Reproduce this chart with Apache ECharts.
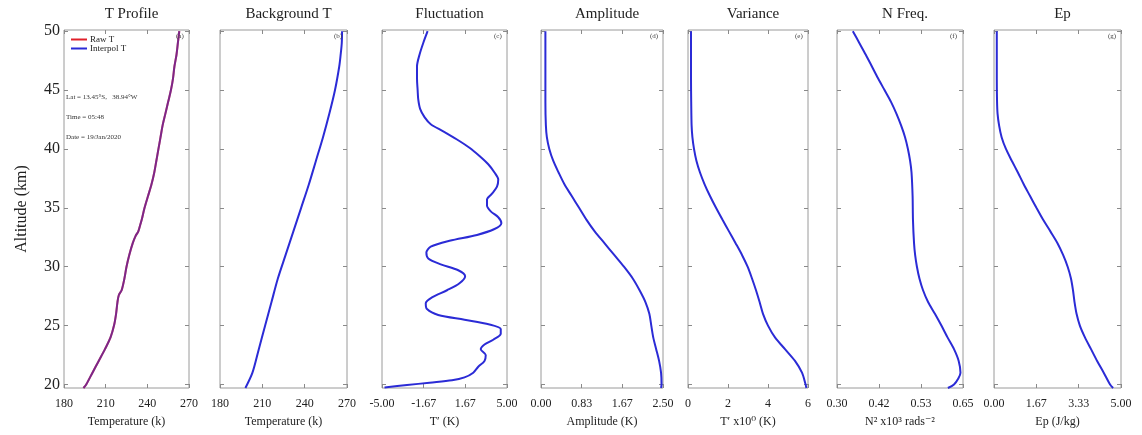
<!DOCTYPE html>
<html>
<head>
<meta charset="utf-8">
<script src="https://cdn.jsdelivr.net/npm/echarts@6/dist/echarts.min.js"></script>
<style>
  html, body { margin: 0; padding: 0; background: #fff; }
  #chart { width: 1142px; height: 435px; }
</style>
</head>
<body>
<div id="chart"></div>
<script>
// altitude ticks shared by all panels
const altTicks = [20, 25, 30, 35, 40, 45, 50]

// (a) T profile, raw + interpolated
const rawAlt = [19.7, 20, 21, 22, 23, 24, 25, 26, 27, 27.6, 28, 29, 30, 31, 32, 32.6, 33, 33.6, 34, 35, 36, 37, 38, 39, 40, 41, 42, 43, 44, 45, 46, 47, 48, 49, 50]
const rawT = [194, 196, 200.5, 205, 209.5, 213.5, 216, 217.5, 218.5, 219.5, 221.5, 223.5, 225, 227, 229.5, 231.5, 233.5, 235, 236, 238, 240.5, 243, 245, 246.5, 248, 249.5, 251, 253, 255, 257, 258.5, 259.5, 261, 262, 263]
const interpT = [194, 196, 200.5, 205, 209.5, 213.5, 216, 217.5, 218.5, 219.5, 221.5, 223.5, 225, 227, 229.5, 231.5, 233.5, 235, 236, 238, 240.5, 243, 245, 246.5, 248, 249.5, 251, 253, 255, 257, 258.5, 259.5, 261, 262, 263]
const tempTicks = [180, 210, 240, 270]

// (b) background T
const bgAlt = [19.7, 21, 23, 25, 27, 29, 31, 33, 35, 37, 39, 41, 43, 45, 47, 48, 49, 50]
const bgT = [198, 203, 207.5, 212, 216.5, 221, 226.5, 232, 237.5, 243, 248, 253, 257.5, 261.5, 264.5, 265.5, 266.3, 266.5]

// (c) fluctuation T'
const flucAlt = [19.75, 19.95, 20.15, 20.35, 20.6, 21, 21.5, 22, 22.5, 23, 23.4, 23.8, 24.3, 24.7, 25.1, 25.5, 25.9, 26.4, 26.9, 27.4, 28, 28.6, 29.2, 29.7, 30.2, 30.7, 31.2, 31.7, 32.2, 32.7, 33.2, 33.7, 34.2, 34.7, 35.2, 35.7, 36.2, 36.8, 37.4, 38, 38.7, 39.4, 40.1, 40.8, 41.5, 42.1, 42.7, 43.4, 44.2, 45, 46, 47, 48, 49, 50]
const flucT = [-4.8, -3.0, -1.2, 0.6, 1.6, 2.3, 2.7, 3.2, 3.3, 2.9, 3.2, 3.9, 4.5, 4.5, 3.6, 1.6, -0.5, -1.4, -1.5, -1.0, 0.2, 1.2, 1.65, 1.1, -0.3, -1.3, -1.45, -1.1, 0.4, 2.6, 4.0, 4.55, 4.3, 3.7, 3.4, 3.4, 3.8, 4.2, 4.3, 4.0, 3.5, 2.8, 2.0, 1.0, -0.1, -1.1, -1.6, -1.95, -2.1, -2.15, -2.2, -2.2, -2.0, -1.7, -1.35]
const flucTicks = [-5, -1.6667, 1.6667, 5]

// (d) amplitude
const ampAlt = [19.7, 20, 21, 22, 23, 24, 25, 26, 27, 28, 29, 30, 31, 32, 33, 34, 35, 36, 37, 38, 39, 40, 41, 42, 44, 46, 48, 50]
const ampVal = [2.46, 2.47, 2.46, 2.42, 2.36, 2.3, 2.26, 2.22, 2.14, 2.02, 1.88, 1.7, 1.5, 1.3, 1.1, 0.93, 0.78, 0.63, 0.48, 0.36, 0.25, 0.17, 0.12, 0.1, 0.09, 0.09, 0.09, 0.09]
const ampTicks = [0, 0.8333, 1.6667, 2.5]

// (e) variance
const varAlt = [19.7, 20, 21, 22, 23, 24, 25, 26, 27, 28, 29, 30, 31, 32, 33, 34, 35, 36, 37, 38, 39, 40, 41, 42, 44, 46, 48, 50]
const varVal = [5.92, 5.88, 5.7, 5.35, 4.85, 4.35, 4.0, 3.75, 3.58, 3.4, 3.2, 2.98, 2.7, 2.38, 2.05, 1.72, 1.4, 1.1, 0.83, 0.6, 0.42, 0.3, 0.22, 0.18, 0.16, 0.15, 0.15, 0.15]
const varTicks = [0, 2, 4, 6]

// (f) N^2
const nAlt = [19.7, 20, 20.5, 21, 22, 23, 24, 25, 26, 27, 28, 29, 30, 31, 32, 34, 36, 38, 39, 40, 41, 42, 43, 44, 45, 46, 47, 48, 49, 50]
const nVal = [0.608, 0.625, 0.637, 0.643, 0.638, 0.625, 0.607, 0.59, 0.572, 0.553, 0.539, 0.529, 0.522, 0.517, 0.514, 0.511, 0.51, 0.507, 0.503, 0.497, 0.489, 0.478, 0.465, 0.45, 0.432, 0.414, 0.397, 0.38, 0.362, 0.344]
const nTicks = [0.3, 0.4167, 0.5333, 0.65]

// (g) Ep
const epAlt = [19.7, 20, 21, 22, 23, 24, 25, 26, 27, 28, 29, 30, 31, 32, 33, 34, 35, 36, 37, 38, 39, 40, 41, 42, 43, 44, 46, 48, 50]
const epVal = [4.69, 4.57, 4.32, 4.06, 3.82, 3.58, 3.38, 3.25, 3.17, 3.11, 3.03, 2.9, 2.72, 2.5, 2.22, 1.93, 1.67, 1.42, 1.17, 0.94, 0.7, 0.47, 0.3, 0.2, 0.14, 0.12, 0.11, 0.11, 0.11]
const epTicks = [0, 1.6667, 3.3333, 5]

const panelTitles = ['T Profile', 'Background T', 'Fluctuation', 'Amplitude', 'Variance', 'N Freq.', 'Ep']
const panelTags = ['(a)', '(b)', '(c)', '(d)', '(e)', '(f)', '(g)']
const axisNames = ['Temperature (k)', 'Temperature (k)', 'T\u2032 (K)', 'Amplitude (K)', 'T\u2032 x10\u2070 (K)', 'N\u00b2 x10\u00b3 rads\u207b\u00b2', 'Ep (J/kg)']
const infoLines = ['Lat = 13.45\u00b0S,   38.94\u00b0W', 'Time = 05:48', 'Date = 19/Jan/2020']

const FONT = '"Liberation Serif", "DejaVu Serif", serif'
const BLUE = '#2b2bd6'
const RED = '#e0202a'

const pairs = (ys, xs) => ys.map((y, i) => [xs[i], y])

const panels = [
  { ticks: tempTicks, digits: 0, series: [
    { name: 'Raw T', color: RED, data: pairs(rawAlt, rawT) },
    { name: 'Interpol T', color: BLUE, data: pairs(rawAlt, interpT), opacity: 0.55 }
  ] },
  { ticks: tempTicks, digits: 0, series: [{ name: 'bg', color: BLUE, data: pairs(bgAlt, bgT) }] },
  { ticks: flucTicks, digits: 2, series: [{ name: 'fluc', color: BLUE, data: pairs(flucAlt, flucT) }] },
  { ticks: ampTicks, digits: 2, series: [{ name: 'amp', color: BLUE, data: pairs(ampAlt, ampVal) }] },
  { ticks: varTicks, digits: 0, series: [{ name: 'var', color: BLUE, data: pairs(varAlt, varVal) }] },
  { ticks: nTicks, digits: 2, series: [{ name: 'n2', color: BLUE, data: pairs(nAlt, nVal) }] },
  { ticks: epTicks, digits: 2, series: [{ name: 'ep', color: BLUE, data: pairs(epAlt, epVal) }] }
]

const lefts = [64, 220, 382, 541, 688, 837, 994]
const widths = [125, 127, 125, 122, 120, 126, 127]
const TOP = 30
const HEIGHT = 358
const Y_MIN = 19.7
const Y_MAX = 50.1

const tickStyle = { inside: true, length: 4, lineStyle: { color: '#8a8a8a', width: 1 } }
const noLine = { show: false, onZero: false }

const grid = []
const xAxis = []
const yAxis = []
const series = []
const title = []
const graphic = []

panels.forEach((p, i) => {
  const lo = p.ticks[0]
  const hi = p.ticks[p.ticks.length - 1]
  grid.push({
    left: lefts[i], top: TOP, width: widths[i], height: HEIGHT,
    show: true, borderColor: '#9a9a9a', borderWidth: 1, backgroundColor: '#fff'
  })
  xAxis.push({
    type: 'value', gridIndex: i, position: 'bottom', min: lo, max: hi,
    axisLine: noLine,
    axisTick: Object.assign({ customValues: p.ticks }, tickStyle),
    splitLine: { show: false },
    axisLabel: {
      customValues: p.ticks, margin: 10, color: '#222', fontFamily: FONT, fontSize: 12,
      formatter: (v) => Number(v).toFixed(p.digits)
    },
    name: axisNames[i], nameLocation: 'middle', nameGap: 28,
    nameTextStyle: { color: '#222', fontFamily: FONT, fontSize: 12 }
  })
  xAxis.push({
    type: 'value', gridIndex: i, position: 'top', min: lo, max: hi,
    axisLine: noLine,
    axisTick: Object.assign({ customValues: p.ticks }, tickStyle),
    axisLabel: { show: false }, splitLine: { show: false }
  })
  yAxis.push({
    type: 'value', gridIndex: i, position: 'left', min: Y_MIN, max: Y_MAX,
    axisLine: noLine,
    axisTick: Object.assign({ customValues: altTicks }, tickStyle),
    splitLine: { show: false },
    axisLabel: {
      show: i === 0, customValues: altTicks, margin: 4,
      color: '#222', fontFamily: FONT, fontSize: 16
    },
    name: i === 0 ? 'Altitude (km)' : '', nameLocation: 'middle', nameGap: 34, nameRotate: 90,
    nameTextStyle: { color: '#222', fontFamily: FONT, fontSize: 16 }
  })
  yAxis.push({
    type: 'value', gridIndex: i, position: 'right', min: Y_MIN, max: Y_MAX,
    axisLine: noLine,
    axisTick: Object.assign({ customValues: altTicks }, tickStyle),
    axisLabel: { show: false }, splitLine: { show: false }
  })
  p.series.forEach((s) => {
    series.push({
      name: s.name, type: 'line', xAxisIndex: 2 * i, yAxisIndex: 2 * i,
      data: s.data, smooth: 0.3, showSymbol: false,
      lineStyle: { color: s.color, width: 2, opacity: s.opacity ?? 1 },
      itemStyle: { color: s.color }, z: 3
    })
  })
  title.push({
    text: panelTitles[i], left: lefts[i] + widths[i] / 2, top: 2, textAlign: 'center',
    textStyle: { fontFamily: FONT, fontSize: 15, fontWeight: 'normal', color: '#222' }
  })
  graphic.push({
    type: 'text', left: lefts[i] + widths[i] - 13, top: TOP + 3, z: 10,
    style: { text: panelTags[i], font: '7px ' + FONT, fill: '#444' }
  })
})

infoLines.forEach((t, k) => {
  graphic.push({
    type: 'text', left: 66, top: 94 + k * 20, z: 10,
    style: { text: t, font: '7px ' + FONT, fill: '#333' }
  })
})

const chart = echarts.init(document.getElementById('chart'))
chart.setOption({
  animation: false,
  backgroundColor: '#fff',
  title,
  grid,
  xAxis,
  yAxis,
  series,
  graphic,
  legend: {
    data: ['Raw T', 'Interpol T'], orient: 'vertical', left: 66, top: 30,
    icon: 'rect', itemWidth: 16, itemHeight: 2, itemGap: 0,
    textStyle: { fontFamily: FONT, fontSize: 9, color: '#222', padding: [0, 0, 0, -2] }
  }
})
</script>
</body>
</html>
